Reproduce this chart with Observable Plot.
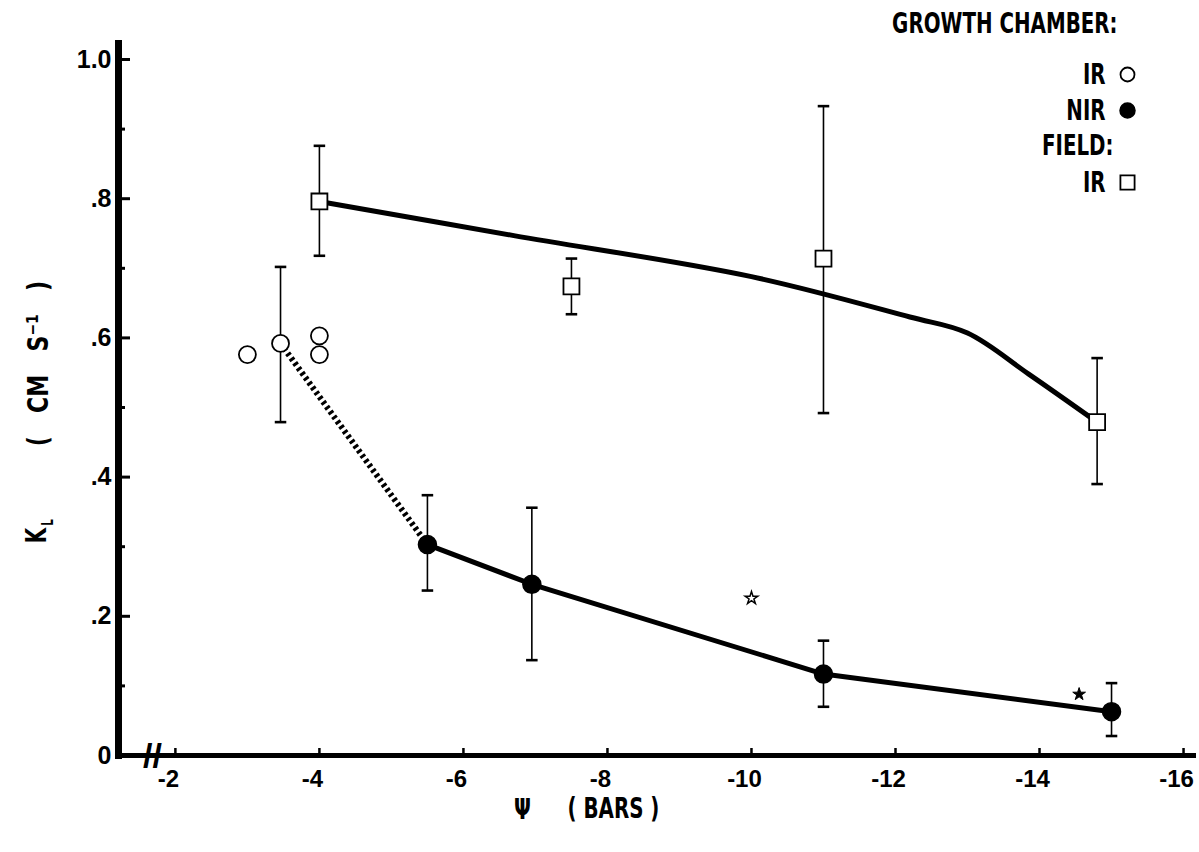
<!DOCTYPE html>
<html><head><meta charset="utf-8">
<script src="https://cdn.jsdelivr.net/npm/d3@7"></script>
<script src="https://cdn.jsdelivr.net/npm/@observablehq/plot@0.6"></script>
<style>
body{margin:0;background:#fff;}
#chart svg{display:block;}
#chart text{white-space:pre;}
</style></head><body><div id="chart"></div>
<script>
// ---- Data ----
// Growth chamber, IR (open circles)
const irX = [-3.0, -3.46, -4.0, -4.0];
const irY = [0.576, 0.592, 0.603, 0.576];
const irErrX = [-3.46];
const irErrLo = [0.479];
const irErrHi = [0.702];
// Growth chamber, NIR (filled circles)
const nirX = [-5.5, -6.95, -11.0, -15.0];
const nirY = [0.303, 0.246, 0.117, 0.063];
const nirLo = [0.237, 0.137, 0.070, 0.028];
const nirHi = [0.374, 0.356, 0.165, 0.104];
// Field, IR (open squares)
const fieldX = [-4.0, -7.5, -11.0, -14.8];
const fieldY = [0.796, 0.674, 0.714, 0.479];
const fieldLo = [0.718, 0.634, 0.492, 0.390];
const fieldHi = [0.876, 0.714, 0.933, 0.571];
// hand-drawn field curve
const fieldCurveX = [-4.0, -6.7, -10.0, -12.2, -13.0, -13.85, -14.8];
const fieldCurveY = [0.796, 0.747, 0.688, 0.630, 0.607, 0.548, 0.479];
// dotted connector (IR chamber -> NIR)
const dottedX = [-3.46, -5.5];
const dottedY = [0.592, 0.303];
// stars
const starOpenX = [-10.0], starOpenY = [0.226];
const starFilledX = [-14.55], starFilledY = [0.088];
// ticks
const xTicks = [-2, -4, -6, -8, -10, -12, -14, -16];
const xTickLabels = ["-2", "-4", "-6", "-8", "-10", "-12", "-14", "-16"];
const yTicks = [0, 0.2, 0.4, 0.6, 0.8, 1.0];
const yTickLabels = ["0", ".2", ".4", ".6", ".8", "1.0"];
const yMinorTicks = [0.1, 0.3, 0.5, 0.7, 0.9];

// ---- Layout ----
const W = 1199, H = 852;
const mL = 118, mR = 3, mT = 43, mB = 97;
const condFont = "'DejaVu Sans Condensed', 'Liberation Sans Narrow', sans-serif";
const labelFont = "'DejaVu Sans Condensed', 'DejaVu Sans', sans-serif";
const tickFont = "'Liberation Sans', Arial, sans-serif";

const zip = (xs, ys, extra = {}) => xs.map((x, i) => {
  const o = {x, y: ys[i]};
  for (const k in extra) o[k] = extra[k][i];
  return o;
});
const irData = zip(irX, irY);
const irErr = zip(irErrX, irErrLo, {hi: irErrHi});
const nirData = zip(nirX, nirY, {lo: nirLo, hi: nirHi});
const fieldData = zip(fieldX, fieldY, {lo: fieldLo, hi: fieldHi});
const fieldCurve = zip(fieldCurveX, fieldCurveY);
const dottedLink = [{x1: dottedX[0], y1: dottedY[0], x2: dottedX[1], y2: dottedY[1]}];

const capSymbol = {draw(ctx, size) { const w = Math.sqrt(size) / 2; ctx.moveTo(-w, 0); ctx.lineTo(w, 0); }};

function errorBars(data, lo, hi) {
  return [
    Plot.ruleX(data, {x: "x", y1: lo, y2: hi, stroke: "#000", strokeWidth: 1.6}),
    Plot.dot(data, {x: "x", y: lo, symbol: capSymbol, r: 6.5, stroke: "#000", strokeWidth: 2.6, fill: "none"}),
    Plot.dot(data, {x: "x", y: hi, symbol: capSymbol, r: 6.5, stroke: "#000", strokeWidth: 2.6, fill: "none"})
  ];
}

const condStyle = {fontFamily: condFont, fontWeight: "bold", fontSize: 29, fill: "#000", lineAnchor: "middle"};
const labelStyle = {fontFamily: labelFont, fontWeight: "bold", fontSize: 29, fill: "#000", lineAnchor: "middle"};
const legendText = (t, dx, dy) => Plot.text([t], {text: d => d, frameAnchor: "top-right", dx, dy,
  textAnchor: "end", ...condStyle});

const chart = Plot.plot({
  width: W, height: H,
  marginLeft: mL, marginRight: mR, marginTop: mT, marginBottom: mB,
  style: {background: "#fff", color: "#000", overflow: "visible"},
  x: {domain: [-1.21, -16.18], axis: null},
  y: {domain: [0, 1.023], axis: null},
  marks: [
    // axes lines
    Plot.frame({anchor: "left", stroke: "#000", strokeWidth: 7}),
    Plot.ruleY([0], {stroke: "#000", strokeWidth: 5}),
    Plot.axisY(yTicks.filter(d => d > 0), {anchor: "left", tickSize: 12, dx: 12, strokeWidth: 3, tickFormat: () => "", label: null}),
    Plot.axisY(yMinorTicks, {anchor: "left", tickSize: 7, dx: 7, strokeWidth: 3, tickFormat: () => "", label: null}),
    Plot.axisY(yTicks, {anchor: "left", tickSize: 0, tickPadding: 7, label: null,
      tickFormat: d => yTickLabels[yTicks.indexOf(d)], fontSize: 25, fontWeight: "bold", fontFamily: tickFont}),
    Plot.axisX(xTicks, {anchor: "bottom", tickSize: 7, dy: -7, strokeWidth: 2.5, tickFormat: () => "", label: null}),
    Plot.axisX(xTicks, {anchor: "bottom", tickSize: 0, tickPadding: 14, dx: -7, label: null,
      tickFormat: d => xTickLabels[xTicks.indexOf(d)], fontSize: 24, fontWeight: "bold", fontFamily: tickFont}),
    // axis break
    Plot.text(["//"], {text: d => d, frameAnchor: "bottom-left", textAnchor: "middle", dx: 34, dy: 1, lineAnchor: "middle",
      fontSize: 34, fontWeight: "bold", fontFamily: tickFont, fill: "#000"}),
    // axis labels
    Plot.text(["Ψ"], {text: d => d, frameAnchor: "bottom", textAnchor: "middle", dx: -135, dy: 54, ...condStyle}),
    Plot.text(["( BARS )"], {text: d => d, frameAnchor: "bottom", textAnchor: "start", dx: -90, dy: 53, ...condStyle}),
    Plot.text(["K"], {text: d => d, frameAnchor: "left", textAnchor: "middle", dx: -82, dy: 136, rotate: -90, ...condStyle}),
    Plot.text(["L"], {text: d => d, frameAnchor: "left", textAnchor: "middle", dx: -70, dy: 123, rotate: -90, ...condStyle, fontSize: 15}),
    Plot.text(["(   CM   S⁻¹   )"], {text: d => d, frameAnchor: "left", textAnchor: "middle", dx: -80, dy: -36, rotate: -90, ...labelStyle}),
    // lines
    Plot.line(fieldCurve, {x: "x", y: "y", curve: "catmull-rom", stroke: "#000", strokeWidth: 5}),
    Plot.line(nirData, {x: "x", y: "y", stroke: "#000", strokeWidth: 5}),
    Plot.link(dottedLink, {x1: "x1", y1: "y1", x2: "x2", y2: "y2", stroke: "#000", strokeWidth: 6,
      strokeDasharray: "3,3", strokeLinecap: "butt"}),
    // error bars
    ...errorBars(fieldData, "lo", "hi"),
    ...errorBars(nirData, "lo", "hi"),
    ...errorBars(irErr, "y", "hi"),
    // points
    Plot.dot(fieldData, {x: "x", y: "y", symbol: "square", r: 9, fill: "#fff", stroke: "#000", strokeWidth: 1.8}),
    Plot.dot(irData, {x: "x", y: "y", symbol: "circle", r: 8.5, fill: "#fff", stroke: "#000", strokeWidth: 1.8}),
    Plot.dot(nirData, {x: "x", y: "y", symbol: "circle", r: 9, fill: "#000", stroke: "#000"}),
    Plot.dot(zip(starOpenX, starOpenY), {x: "x", y: "y", symbol: "star", r: 4, fill: "#fff", stroke: "#000", strokeWidth: 1.5}),
    Plot.dot(zip(starFilledX, starFilledY), {x: "x", y: "y", symbol: "star", r: 4, fill: "#000", stroke: "#000", strokeWidth: 1}),
    // legend
    legendText("GROWTH CHAMBER:", -79, -20),
    legendText("IR", -91, 31),
    Plot.dot([0], {frameAnchor: "top-right", dx: -69, dy: 31, r: 7, fill: "#fff", stroke: "#000", strokeWidth: 1.8}),
    legendText("NIR", -91, 67),
    Plot.dot([0], {frameAnchor: "top-right", dx: -69, dy: 67, r: 7.5, fill: "#000", stroke: "#000"}),
    legendText("FIELD:", -83, 102),
    legendText("IR", -91, 139),
    Plot.dot([0], {frameAnchor: "top-right", dx: -69, dy: 139, r: 8, symbol: "square", fill: "#fff", stroke: "#000", strokeWidth: 1.8})
  ]
});
document.getElementById("chart").appendChild(chart);
// narrow, tall lettering like the original: compress condensed texts horizontally
const squeeze = {[condFont]: 0.76, [labelFont]: 0.85};
chart.querySelectorAll("g[font-family]").forEach(g => {
  const f = squeeze[g.getAttribute("font-family")];
  if (!f) return;
  g.querySelectorAll("text").forEach(t => {
    const w = t.getComputedTextLength();
    t.setAttribute("textLength", (w * f).toFixed(1));
    t.setAttribute("lengthAdjust", "spacingAndGlyphs");
  });
});
</script>
</body></html>
